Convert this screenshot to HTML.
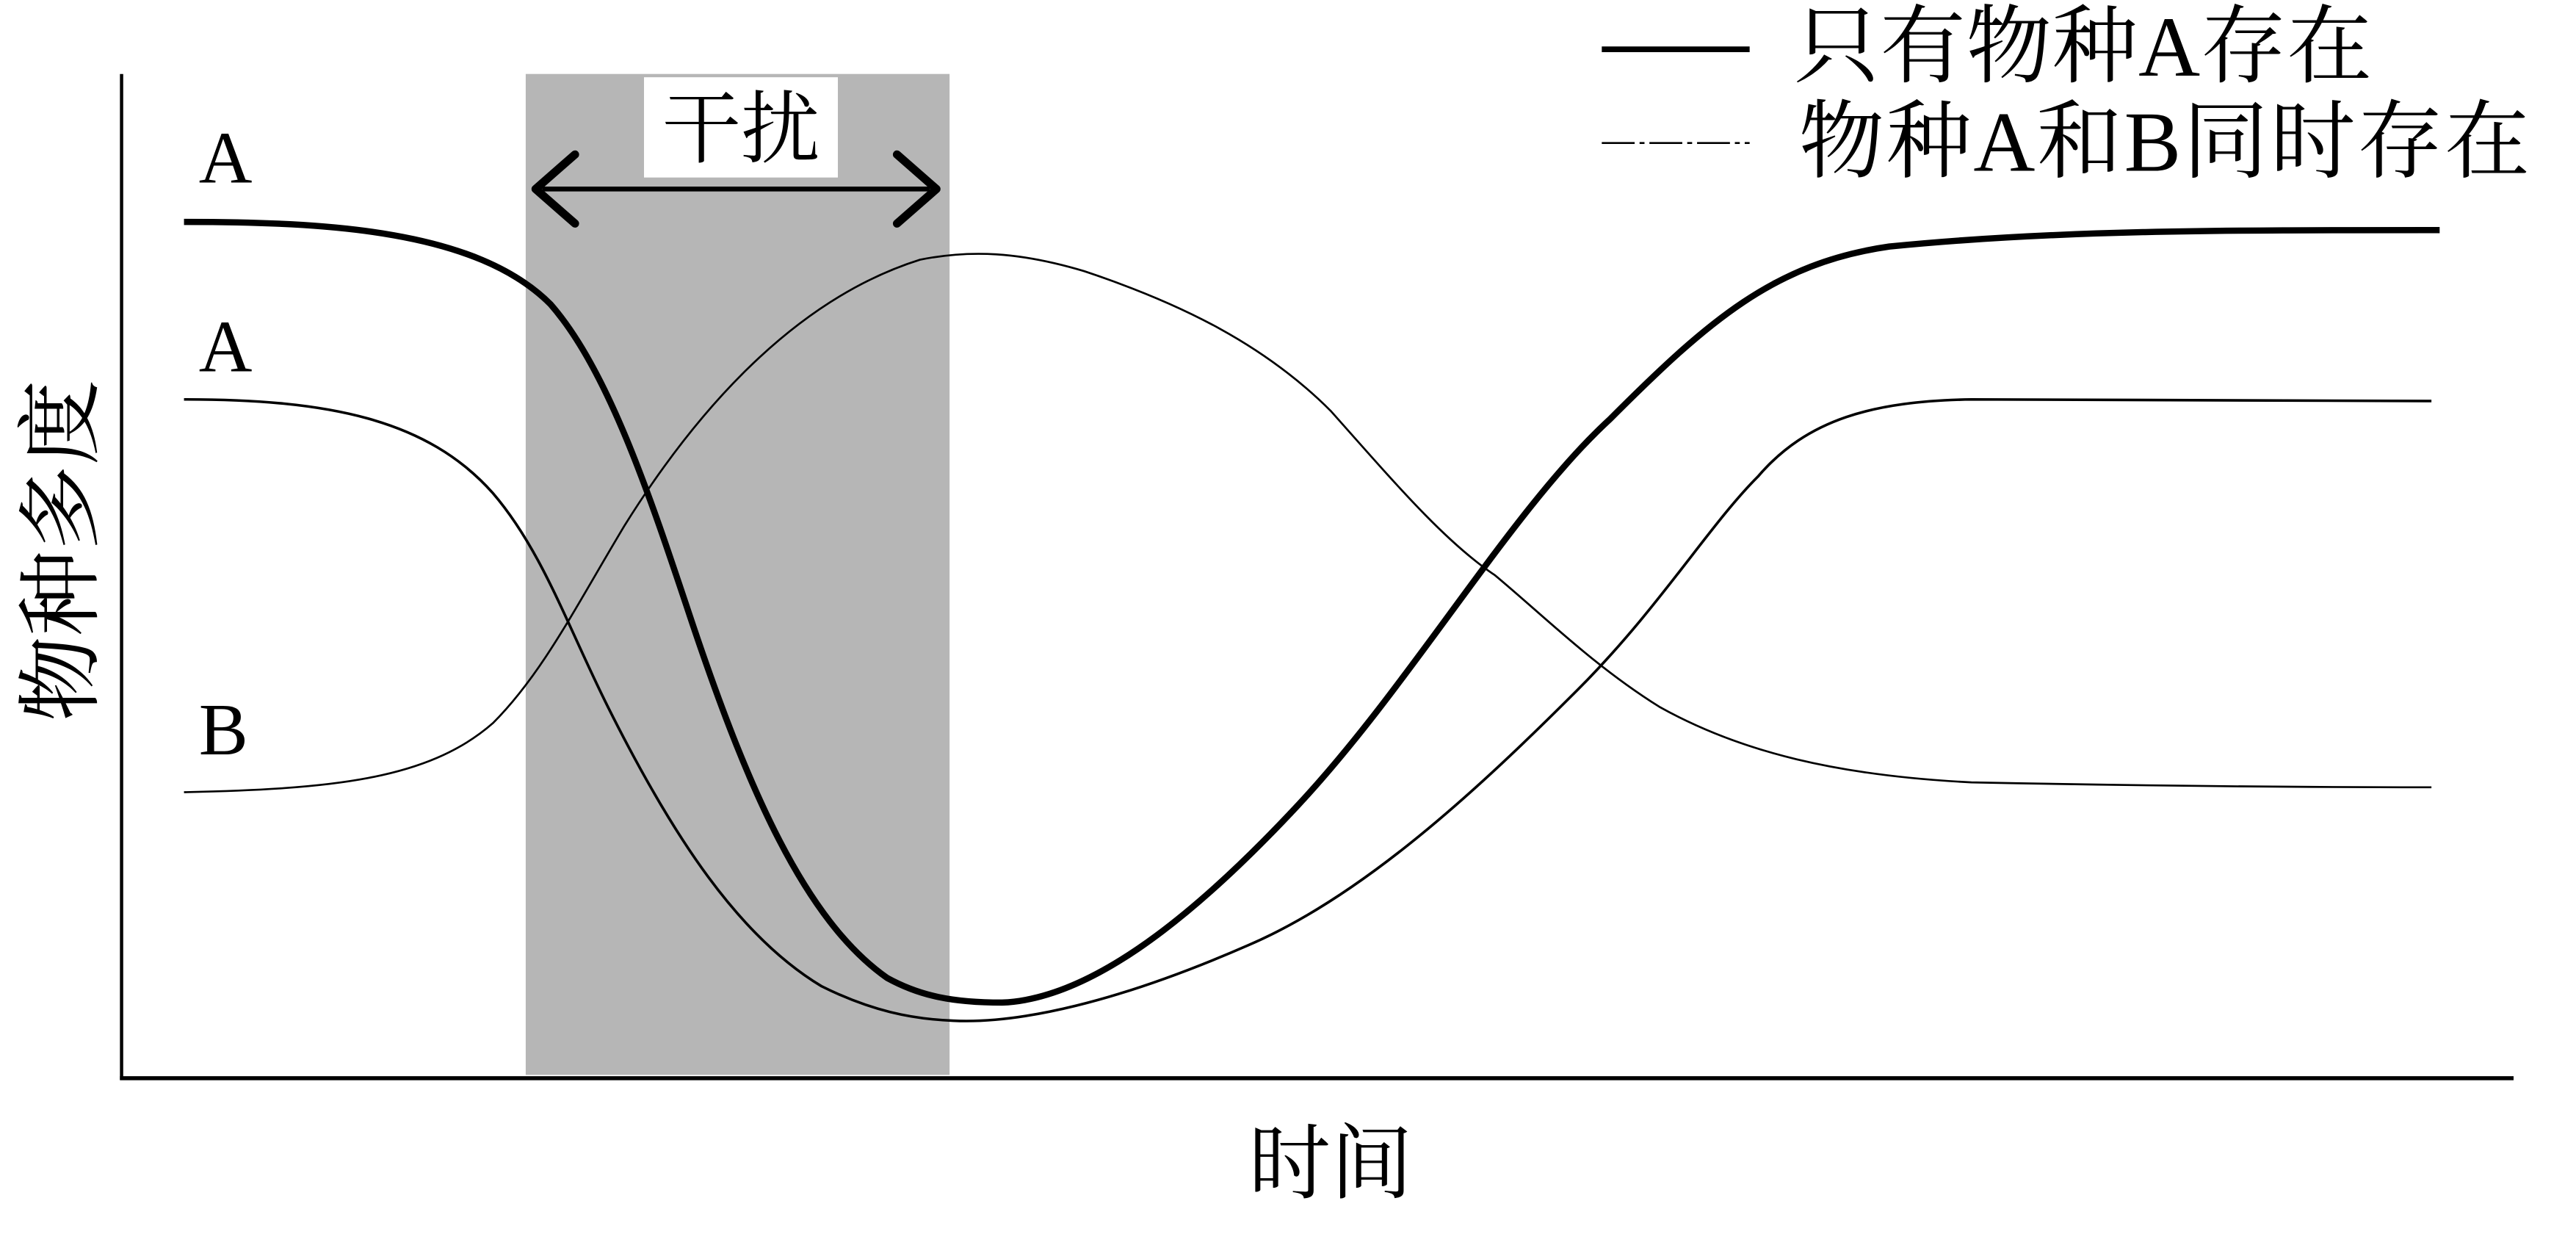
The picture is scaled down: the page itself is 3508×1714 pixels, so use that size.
<!DOCTYPE html>
<html><head><meta charset="utf-8"><style>
html,body{margin:0;padding:0;background:#fff;}
svg{display:block;}
</style></head><body>
<svg width="3508" height="1714" viewBox="0 0 1568 766" preserveAspectRatio="none" xmlns="http://www.w3.org/2000/svg">
<rect x="320" y="45" width="258" height="609" fill="#b6b6b6"/>
<rect x="392" y="47" width="118" height="61" fill="#fff"/>
<text x="451" y="95" font-family="Noto Serif CJK SC, serif" font-size="48" text-anchor="middle" fill="#000">干扰</text>
<line x1="330" y1="115" x2="566" y2="115" stroke="#000" stroke-width="3"/>
<polyline points="350,94 326,115 350,136" fill="none" stroke="#000" stroke-width="5" stroke-linecap="round" stroke-linejoin="round"/>
<polyline points="546,94 570,115 546,136" fill="none" stroke="#000" stroke-width="5" stroke-linecap="round" stroke-linejoin="round"/>
<line x1="74" y1="45" x2="74" y2="657" stroke="#000" stroke-width="2"/>
<line x1="73" y1="656" x2="1530" y2="656" stroke="#000" stroke-width="2.5"/>
<g font-family="Liberation Serif, serif" font-size="45" fill="#000">
<text x="121" y="111">A</text>
<text x="121" y="226">A</text>
<text x="121" y="459">B</text>
</g>
<text transform="translate(55,335) rotate(-90)" font-family="Noto Serif CJK SC, serif" font-size="52" text-anchor="middle" fill="#000">物种多度</text>
<text x="810" y="725" font-family="Noto Serif CJK SC, serif" font-size="50" text-anchor="middle" fill="#000">时间</text>
<line x1="975" y1="30" x2="1065" y2="30" stroke="#000" stroke-width="3.5"/>
<line x1="975" y1="87" x2="1065" y2="87" stroke="#000" stroke-width="1.2" stroke-dasharray="20,3,3,3"/>
<text x="1092" y="46" font-family="Liberation Serif, Noto Serif CJK SC, serif" font-size="52" textLength="352" fill="#000">只有物种A存在</text>
<text x="1095" y="104" font-family="Liberation Serif, Noto Serif CJK SC, serif" font-size="52" textLength="445" fill="#000">物种A和B同时存在</text>
<path d="M112,135 C200,135 290,140 335,185 C370,225 395,300 420,375 C455,480 490,560 540,595 C560,606 580,610 610,610 C660,608 720,565 790,490 C860,415 920,310 980,255 C1040,195 1080,160 1150,150 C1250,140 1350,140 1485,140" fill="none" stroke="#000" stroke-width="3.8"/>
<path d="M112,243 C200,243 260,255 300,300 C330,335 345,380 370,430 C410,510 450,570 500,600 C530,615 555,620 580,621 C620,623 680,610 760,575 C830,545 900,480 960,420 C1010,370 1040,320 1070,290 C1100,255 1140,244 1200,243 C1300,243 1400,244 1480,244" fill="none" stroke="#000" stroke-width="1.6"/>
<path d="M112,482 C200,480 260,475 300,440 C330,410 350,370 380,320 C430,240 490,180 560,158 C590,152 620,153 660,165 C720,185 770,210 810,250 C850,295 880,330 910,350 C940,375 970,405 1010,430 C1060,458 1120,472 1200,476 C1300,478 1400,479 1480,479" fill="none" stroke="#000" stroke-width="1.2"/>
</svg>
</body></html>
